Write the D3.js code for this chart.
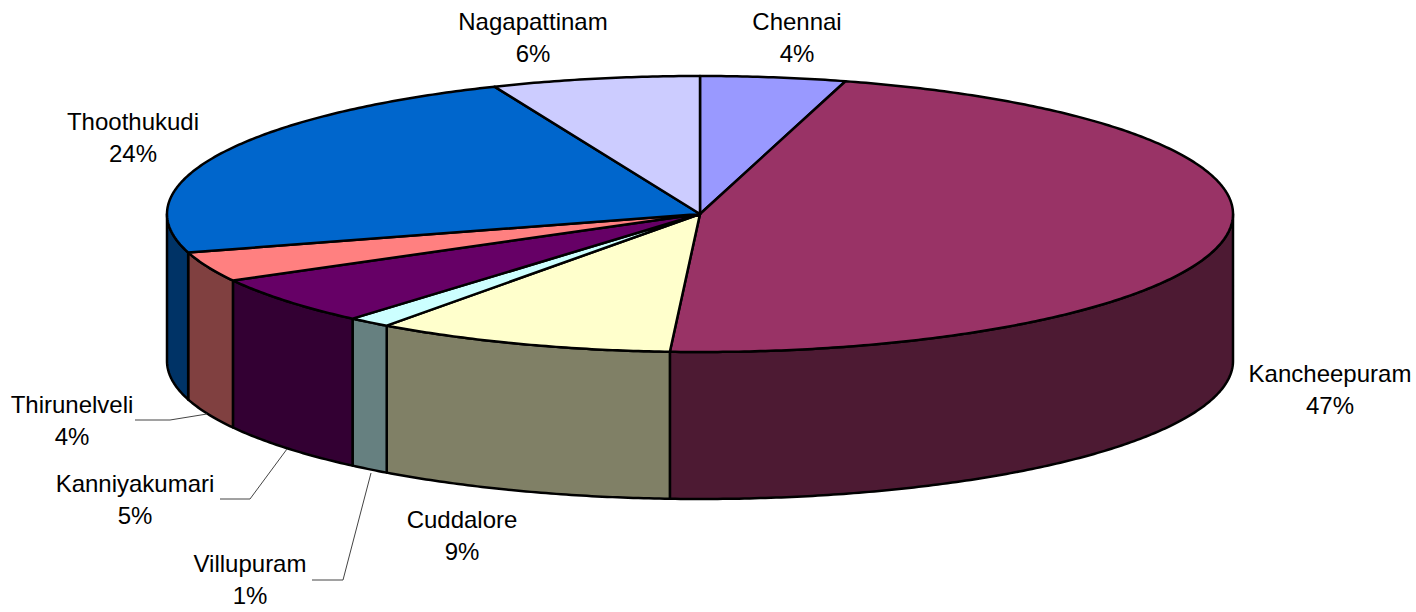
<!DOCTYPE html>
<html><head><meta charset="utf-8">
<script src="https://cdn.jsdelivr.net/npm/d3@7"></script>
<style>html,body{margin:0;padding:0;background:#fff;}svg{display:block;}</style>
</head><body>
<svg id="chart" width="1416" height="612"></svg>
<script>
const categories = ["Chennai","Kancheepuram","Cuddalore","Villupuram","Kanniyakumari","Thirunelveli","Thoothukudi","Nagapattinam"];
const values = [4.4, 46.5, 9.1, 1.3, 5.7, 3.5, 23.2, 6.3];
const percentLabels = ["4%","47%","9%","1%","5%","4%","24%","6%"];
const colors = ["#9999FF","#993366","#FFFFCC","#CCFFFF","#660066","#FF8080","#0066CC","#CCCCFF"];

const svg = d3.select("#chart");
const cx = 700, cy = 214, rx = 533, ry = 138, depth = 147;

const pie = d3.pie().sort(null).value(d => d).startAngle(0).endAngle(2*Math.PI);
const arcs = pie(values);

const px = a => cx + rx*Math.sin(a);
const py = a => cy - ry*Math.cos(a);

function arcPts(a0, a1, dy) {
  const n = Math.max(2, Math.ceil(Math.abs(a1-a0)/0.01));
  const pts = [];
  for (let i=0;i<=n;i++){ const a=a0+(a1-a0)*i/n; pts.push([px(a), py(a)+dy]); }
  return pts;
}
const line = d3.line();
const half = c => { const k=d3.rgb(c); return d3.rgb(k.r*0.5,k.g*0.5,k.b*0.5).toString(); };

// side faces
const gSide = svg.append("g");
arcs.forEach((d,i) => {
  const a0 = Math.max(d.startAngle, Math.PI/2), a1 = Math.min(d.endAngle, 3*Math.PI/2);
  if (a1 <= a0) return;
  const top = arcPts(a0, a1, 0);
  const bot = arcPts(a1, a0, depth);
  gSide.append("path").attr("d", line(top.concat(bot)) + "Z")
    .attr("fill", half(colors[i])).attr("stroke","#000").attr("stroke-width",2.5)
    .attr("stroke-linejoin","round");
});

// top faces
const gTop = svg.append("g");
arcs.forEach((d,i) => {
  const pts = [[cx,cy]].concat(arcPts(d.startAngle, d.endAngle, 0));
  gTop.append("path").attr("d", line(pts) + "Z")
    .attr("fill", colors[i]).attr("stroke","#000").attr("stroke-width",2.5)
    .attr("stroke-linejoin","round");
});

// labels (layout only)
const labelLayout = [
  {x:797, y:30},
  {x:1330, y:382},
  {x:462, y:528},
  {x:250, y:572, leader:[[312,580],[343,580],[371,473]]},
  {x:135, y:492, leader:[[220,499],[250,499],[287,449]]},
  {x:72, y:413, leader:[[135,420],[170,420],[207,414]]},
  {x:133, y:130},
  {x:533, y:30}
];
const gLab = svg.append("g").attr("font-family","Liberation Sans, Arial, sans-serif").attr("font-size",24).attr("fill","#000");
arcs.forEach((d,i) => {
  const L = labelLayout[i];
  if (L.leader) {
    svg.append("path").attr("d", line(L.leader)).attr("fill","none").attr("stroke","#444").attr("stroke-width",1);
  }
  const t = gLab.append("text").attr("text-anchor","middle");
  t.append("tspan").attr("x",L.x).attr("y",L.y).text(categories[i]);
  t.append("tspan").attr("x",L.x).attr("dy",32).text(percentLabels[i]);
});
</script>
</body></html>
